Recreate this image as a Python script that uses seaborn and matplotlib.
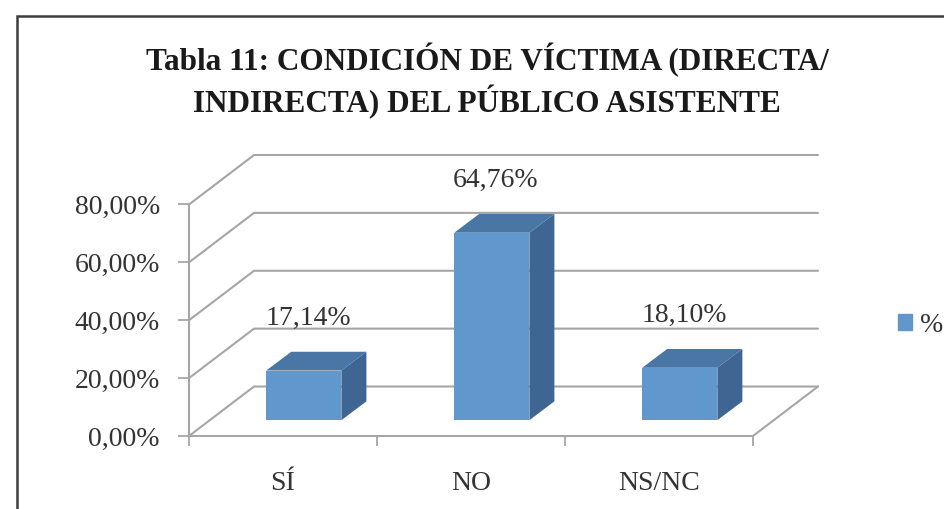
import matplotlib
matplotlib.use("Agg")
import matplotlib.pyplot as plt
import seaborn as sns
from matplotlib.patches import Polygon, Rectangle, Patch

# data
categories = ["SÍ", "NO", "NS/NC"]
values = [17.14, 64.76, 18.10]
value_labels = ["17,14%", "64,76%", "18,10%"]
y_ticks = [0, 20, 40, 60, 80]
y_tick_labels = ["0,00%", "20,00%", "40,00%", "60,00%", "80,00%"]
series_name = "%"

FRONT = "#6097CD"
TOP = "#4A76A6"
SIDE = "#3F6592"
GRID = "#A6A6A6"
TEXT = "#333333"

# fake 3D depth (data units)
DX, DY = 0.346, 17.1          # floor depth
F0 = 0.32                     # bar front position within the depth
BDX, BDY = 0.133, 6.5         # bar depth

sns.set_style("white")
plt.rcParams["font.family"] = ["Liberation Serif", "DejaVu Serif"]

fig = plt.figure(figsize=(9.45, 5.09), dpi=100)
ax = fig.add_axes([189 / 945, 1 - 436 / 509, (818 - 189) / 945, (436 - 155) / 509])

sns.barplot(x=categories, y=values, ax=ax, width=0.40, color=FRONT,
            saturation=1, edgecolor="none", zorder=3)

x0, x1 = -0.5, len(categories) - 0.5

# walls: gridlines on the left wall and back wall
for v in y_ticks:
    ax.plot([x0, x0 + DX, x1 + DX], [v, v + DY, v + DY], color=GRID, lw=1.5,
            zorder=1, clip_on=False, solid_joinstyle="miter")
# floor front edge, right edge, y axis
ax.plot([x0, x1, x1 + DX], [0, 0, DY], color=GRID, lw=1.5, zorder=1, clip_on=False)
ax.plot([x0, x0], [0, max(y_ticks)], color=GRID, lw=1.5, zorder=1, clip_on=False)

# turn the flat bars into boxes
for p, lab in zip(ax.patches, value_labels):
    x, w, h = p.get_x(), p.get_width(), p.get_height()
    fx, fy = x + F0 * DX, F0 * DY
    p.set_xy((fx, fy))
    top = [(fx, fy + h), (fx + w, fy + h), (fx + w + BDX, fy + h + BDY), (fx + BDX, fy + h + BDY)]
    side = [(fx + w, fy), (fx + w + BDX, fy + BDY), (fx + w + BDX, fy + h + BDY), (fx + w, fy + h)]
    ax.add_patch(Polygon(top, closed=True, fc=TOP, ec="none", zorder=3, clip_on=False))
    ax.add_patch(Polygon(side, closed=True, fc=SIDE, ec="none", zorder=3, clip_on=False))
    ax.annotate(lab, (fx + w / 2, fy + h + BDY), xytext=(3, 24), textcoords="offset points",
                ha="center", va="center", fontsize=20, color=TEXT)

ax.set_xlim(x0, x1 + DX)
ax.set_ylim(0, max(y_ticks) + DY)
sns.despine(ax=ax, left=True, bottom=True)

ax.set_yticks(y_ticks)
ax.set_yticklabels(y_tick_labels)
ax.tick_params(axis="y", direction="out", length=8, width=1.3, color=GRID,
               labelsize=20, labelcolor=TEXT, pad=13, left=True)
ax.set_xticks(range(len(categories)))
ax.set_xticklabels(categories)
ax.set_xticks([x0 + i for i in range(len(categories) + 1)], minor=True)
ax.tick_params(axis="x", which="major", length=0, labelsize=20, labelcolor=TEXT, pad=25)
ax.tick_params(axis="x", which="minor", direction="out", length=7, width=1.3,
               color=GRID, bottom=True)
ax.set_xlabel("")
ax.set_ylabel("")

# legend at the right edge
ax.legend(handles=[Patch(color=FRONT)], labels=[series_name], loc="center left",
          bbox_to_anchor=(898 / 945, 1 - 325 / 509), bbox_transform=fig.transFigure,
          frameon=False, fontsize=20, handlelength=0.5, handleheight=0.5,
          handletextpad=0.3, borderpad=0, borderaxespad=0, labelcolor=TEXT)

# title
fig.text(487 / 945, 1 - 70 / 509, "Tabla 11: CONDICIÓN DE VÍCTIMA (DIRECTA/",
         ha="center", va="baseline", fontsize=22.5, fontweight="bold", color="#1a1a1a")
fig.text(487 / 945, 1 - 112 / 509, "INDIRECTA) DEL PÚBLICO ASISTENTE",
         ha="center", va="baseline", fontsize=22.5, fontweight="bold", color="#1a1a1a")

# chart area border (screenshot is cropped on the right and bottom)
fig.add_artist(Rectangle((17 / 945, -0.1), 1.2, 1.1 - 16 / 509, transform=fig.transFigure,
                         fill=False, ec="#3c3c3c", lw=1.8))

fig.savefig("out.png", dpi=100)
